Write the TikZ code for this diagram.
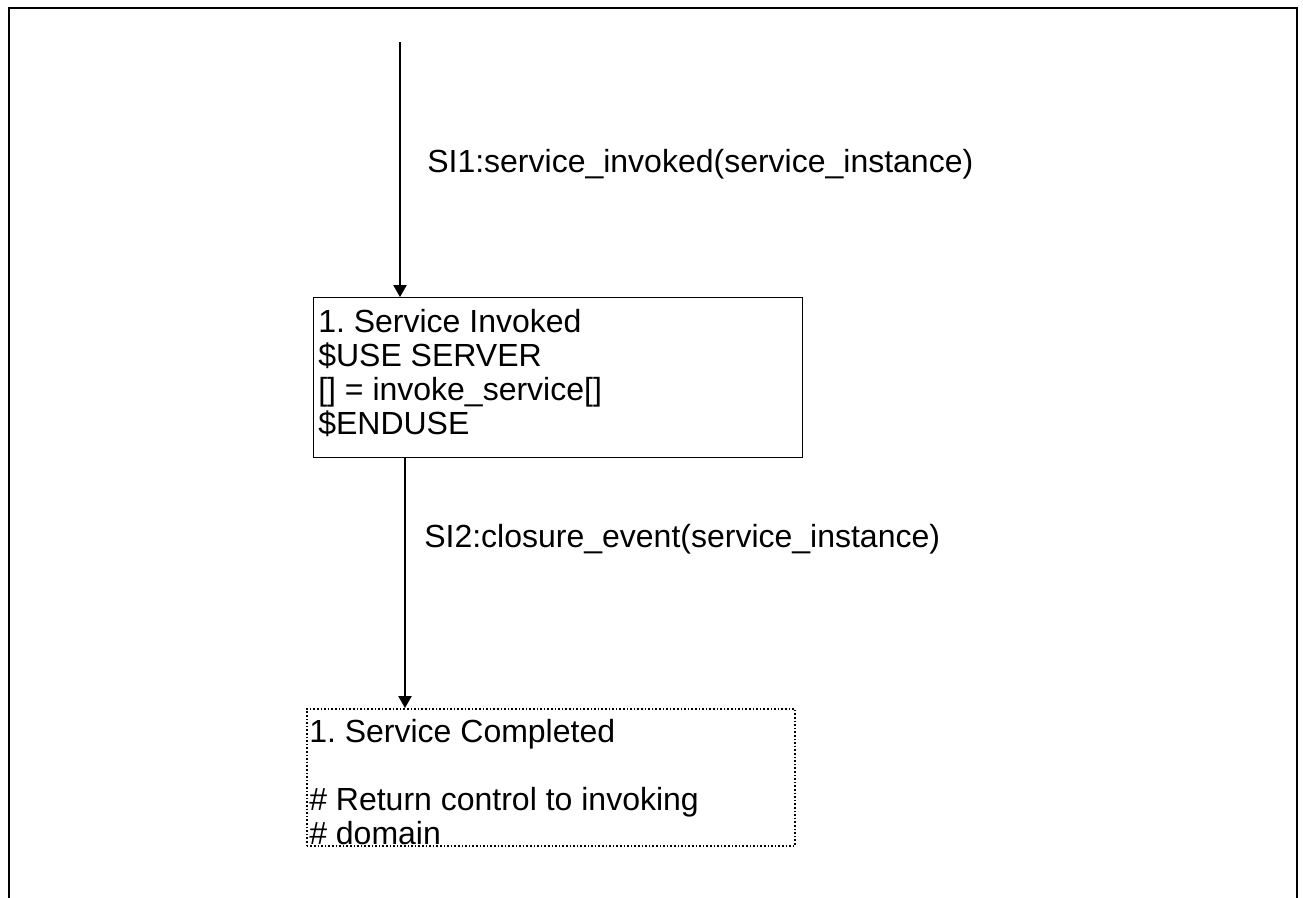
\documentclass[tikz,border=0pt]{standalone}
\usepackage{fontspec}
\setmainfont{Liberation Sans}
\usetikzlibrary{arrows.meta}
\begin{document}
\begin{tikzpicture}[x=0.75pt,y=-0.75pt,
  frame/.style={line width=1.7pt},
  arr/.style={line width=0.9pt,-{Triangle[width=10pt,length=9pt]}},
  statebox/.style={draw,line width=1.1pt,inner sep=0,anchor=north west},
  finalbox/.style={draw,line width=1.2pt,dash pattern=on 1.2pt off 1.5pt,inner sep=0,anchor=north west},
  txt/.style={font=\fontsize{24}{25.5}\selectfont,align=left,inner sep=0,anchor=north west},
  lbl/.style={font=\fontsize{24}{25.5}\selectfont,inner sep=0,anchor=base west}]
\useasboundingbox (0,0) rectangle (1303,897);
\draw[frame] (9,900) -- (9,8) -- (1297,8) -- (1297,900);
\coordinate (start) at (400,42);
\node[statebox, minimum width=366.75pt, minimum height=120pt] (b1) at (313,297) {};
\node[finalbox, minimum width=366pt, minimum height=103pt] (b2) at (306,708) {};
\node[txt] (t1) at (318,309) {1.\ Service Invoked\\\$USE SERVER\\{[]} = invoke\_service{[]}\\\$ENDUSE};
\node[txt] (t2) at (309,719) {1.\ Service Completed\\\mbox{}\\\# Return control to invoking\\\# domain};
\node[lbl] (l1) at (427,172) {SI1:service\_invoked(service\_instance)};
\node[lbl] (l2) at (424,547) {SI2:closure\_event(service\_instance)};
\draw[arr] (start) -- (start |- b1.north);
\draw[arr] ([xshift=69pt]b1.south west) -- ([xshift=69pt]b1.south west |- b2.north);
\end{tikzpicture}
\end{document}
